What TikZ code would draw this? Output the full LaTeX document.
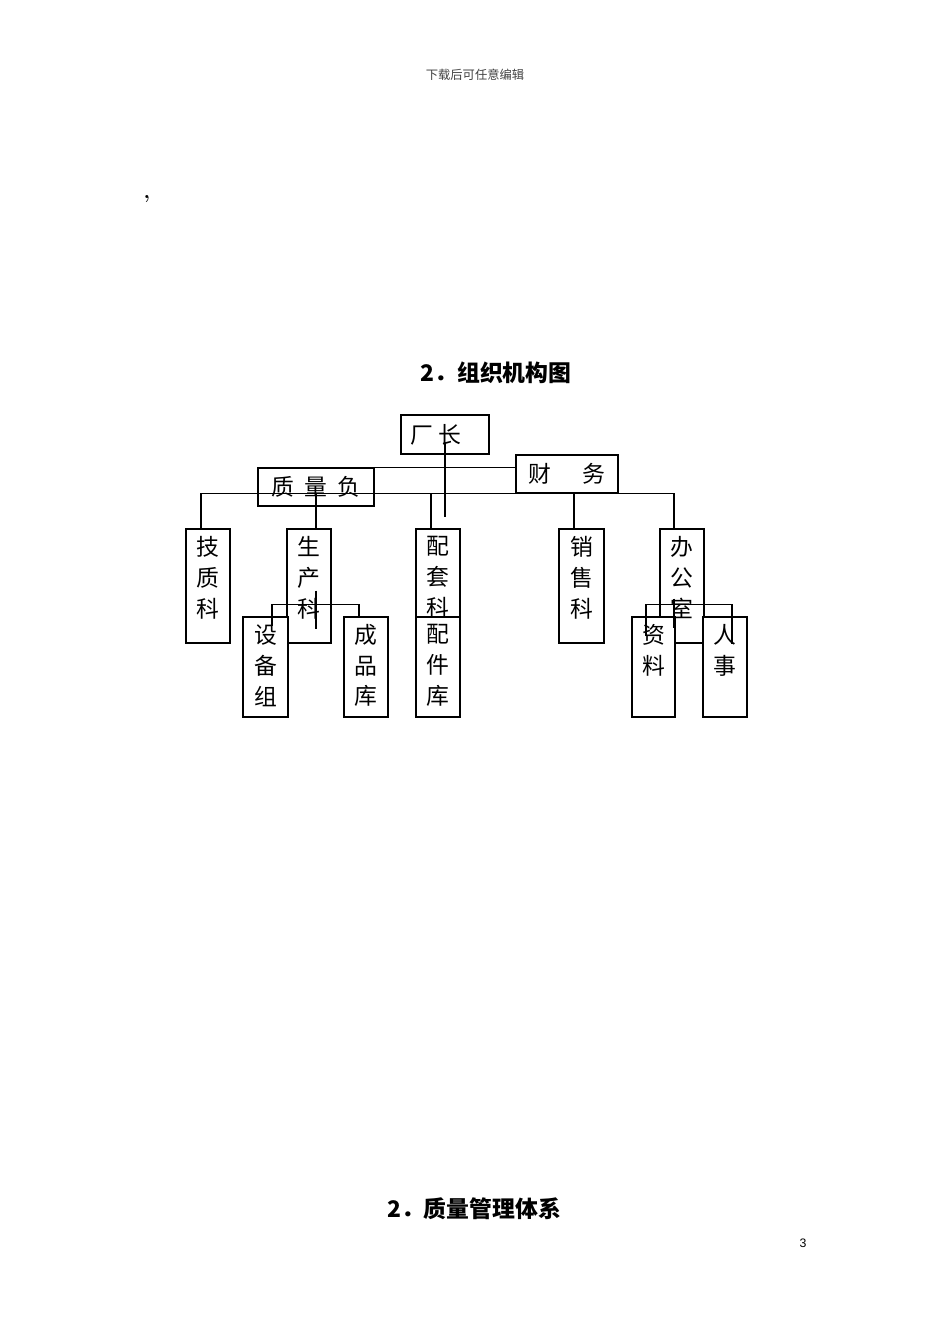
\documentclass[tikz,border=0pt]{standalone}
\usepackage{fontspec}
\newfontfamily\cjk{Noto Sans CJK SC}
\newfontfamily\arialfont{Liberation Sans}
\usepackage{tikz}
\usetikzlibrary{positioning}

\tikzset{
  box/.style={draw, line width=0.7pt, inner sep=0pt},
  lowbox/.style={box, fill=white},
  vtext/.style={inner sep=0pt, align=center, font=\cjk\fontsize{13pt}{17.6pt}\selectfont},
  htext/.style={inner sep=0pt, font=\cjk\fontsize{13pt}{15pt}\selectfont},
  link/.style={line width=0.7pt}
}

\begin{document}
\begin{tikzpicture}[x=0.02cm, y=-0.02cm]
            \useasboundingbox (0,0) rectangle (950,1344);

            % Trang
            \node[inner sep=0pt, font=\cjk\fontsize{7pt}{8pt}\selectfont, text=black!75] (hdr) at (475,75) {下载后可任意编辑};
            \node[inner sep=0pt, font=\bfseries\large] (comma) at (147,199) {,};
            \node[inner sep=0pt, font=\cjk\bfseries\fontsize{13pt}{15pt}\selectfont] (title1) at (496,373) {2．组织机构图};
            \node[inner sep=0pt, font=\cjk\bfseries\fontsize{13pt}{15pt}\selectfont] (title2) at (474,1209) {2．质量管理体系};
            \node[inner sep=0pt, font=\arialfont\fontsize{7pt}{8pt}\selectfont] (pgno) at (803,1243) {3};

            % Hang tren
            \node[box, minimum width=1.76cm, minimum height=0.78cm] (cz) at (445,434.5) {};
            \node[box, minimum width=2.04cm, minimum height=0.76cm] (cw) at (567,474) {};
            \node[box, minimum width=2.32cm, minimum height=0.76cm] (zlf) at (316,487) {};
            \node[htext] (cz-t) at (436,435) {厂\hspace{0.1cm}长};
            \node[htext] (cw-t) at (567,474) {财\hspace{0.62cm}务};
            \node[htext] (zlf-t) at (316,487) {质\hspace{0.2cm}量\hspace{0.2cm}负};

            % Cac khoa
            \node[box, minimum width=0.88cm, minimum height=2.28cm] (jzk) at (208,586) {};
            \node[box, minimum width=0.88cm, minimum height=2.28cm] (sck) at (309,586) {};
            \node[box, minimum width=0.88cm, minimum height=1.76cm] (ptk) at (438,573) {};
            \node[box, minimum width=0.90cm, minimum height=2.28cm] (xsk) at (581.5,586) {};
            \node[box, minimum width=0.88cm, minimum height=2.28cm] (bgs) at (682,586) {};
            \node[vtext] (jzk-t) at ([yshift=-0.98cm]jzk.north) {技\\质\\科};
            \node[vtext] (sck-t) at ([yshift=-0.98cm]sck.north) {生\\产\\科};
            \node[vtext] (ptk-t) at ([yshift=-0.98cm]ptk.north) {配\\套\\科};
            \node[vtext] (xsk-t) at ([yshift=-0.98cm]xsk.north) {销\\售\\科};
            \node[vtext] (bgs-t) at ([yshift=-0.98cm]bgs.north) {办\\公\\室};

            % Hang duoi
            \node[lowbox, minimum width=0.90cm, minimum height=2cm] (sbz) at (265.5,667) {};
            \node[lowbox, minimum width=0.88cm, minimum height=2cm] (cpk) at (366,667) {};
            \node[lowbox, minimum width=0.88cm, minimum height=2cm] (pjk) at (438,667) {};
            \node[lowbox, minimum width=0.86cm, minimum height=2cm] (zl) at (653.5,667) {};
            \node[lowbox, minimum width=0.88cm, minimum height=2cm] (rs) at (725,667) {};
            \node[vtext] (sbz-t) at ([yshift=-0.98cm]sbz.north) {设\\备\\组};
            \node[vtext] (cpk-t) at ([yshift=-0.98cm]cpk.north) {成\\品\\库};
            \node[vtext] (pjk-t) at ([yshift=-0.98cm]pjk.north) {配\\件\\库};
            \node[vtext] (zl-t) at ([yshift=-0.68cm]zl.north) {资\\料};
            \node[vtext] (rs-t) at ([yshift=-0.68cm]rs.north) {人\\事};

            % Duong noi
            \coordinate (czend) at (445,517);
            \draw[link] ([yshift=0.24cm]cz.south) -- (czend);
            \draw[link] (zlf.north east) -- (zlf.north east -| cw.west);
            \draw[link] ([xshift=-0.14cm]jzk.north) |- ([xshift=-0.16cm]bgs.north |- cw.south) -- ([xshift=-0.16cm]bgs.north);
            \draw[link] ([xshift=0.14cm]sck.north) -- ([xshift=0.14cm]sck.north |- cw.south);
            \draw[link] ([xshift=-0.14cm]ptk.north) -- ([xshift=-0.14cm]ptk.north |- cw.south);
            \draw[link] ([xshift=-0.15cm]xsk.north) -- ([xshift=-0.15cm]xsk.north |- cw.south);

            % Nhanh duoi
            \draw[link] ([xshift=0.14cm, yshift=1.06cm]sck.south) -- ([xshift=0.14cm, yshift=0.3cm]sck.south);
            \draw[link] ([xshift=0.13cm, yshift=-0.2cm]sbz.north) -- ([xshift=0.13cm, yshift=0.24cm]sbz.north) -| ([xshift=-0.14cm]cpk.north);
            \draw[link] ([xshift=-0.16cm, yshift=0.9cm]bgs.south) -- ([xshift=-0.16cm, yshift=0.32cm]bgs.south);
            \draw[link] ([xshift=-0.15cm, yshift=-0.4cm]zl.north) -- ([xshift=-0.15cm, yshift=0.24cm]zl.north) -| ([xshift=0.14cm, yshift=-0.56cm]rs.north);
        \end{tikzpicture}
\end{document}
